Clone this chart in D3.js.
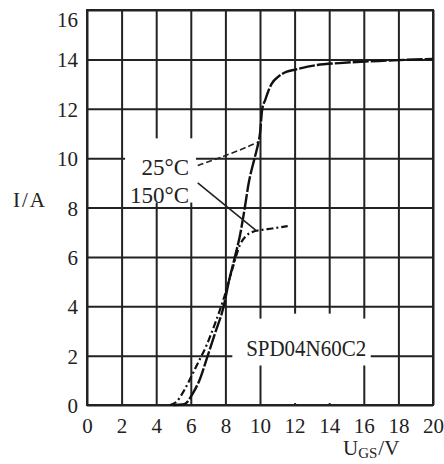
<!DOCTYPE html>
<html>
<head>
<meta charset="utf-8">
<script src="https://cdn.jsdelivr.net/npm/d3@7"></script>
<style>
  body { margin: 0; background: #fff; }
  svg text { font-family: "Liberation Serif", "DejaVu Serif", serif; fill: #222; }
</style>
</head>
<body>
<svg id="chart"></svg>
<script>
// Transfer characteristic, SPD04N60C2 (I vs U_GS at two temperatures)

const xTicks = [0, 2, 4, 6, 8, 10, 12, 14, 16, 18, 20];
const yTicks = [0, 2, 4, 6, 8, 10, 12, 14, 16];

// 25 C curve
const volt25 = [5.0, 5.5, 5.76, 6.1, 6.5, 6.98, 7.4, 7.9, 8.2, 8.55, 8.85, 9.1, 9.35, 9.65, 9.85, 10.0, 10.13, 10.3, 10.5, 10.68, 11.06, 11.55, 12.0, 13.3, 14.6, 17.3, 20];
const amp25  = [0.0, 0.02, 0.1, 0.45, 1.0, 2.0, 2.9, 4.0, 5.0, 6.0, 6.9, 7.9, 9.0, 9.9, 10.45, 11.0, 12.0, 12.35, 12.75, 13.02, 13.3, 13.5, 13.58, 13.77, 13.85, 13.95, 14.02];

// 150 C curve
const volt150 = [4.8, 5.2, 5.4, 5.85, 6.34, 6.9, 7.4, 7.9, 8.4, 8.85, 9.2, 9.6, 10.0, 10.7, 11.6];
const amp150  = [0.0, 0.15, 0.34, 0.9, 1.6, 2.4, 3.3, 4.3, 5.5, 6.5, 6.85, 7.02, 7.08, 7.15, 7.25];

// label leader lines (data units)
const lead25 = [[6.4, 9.7], [7.8, 10.05], [9.25, 10.45], [9.9, 10.65]];
const lead150 = [[6.4, 9.0], [9.8, 7.05]];

const margin = { top: 10, right: 11, bottom: 59, left: 87 };
const width = 444 - margin.left - margin.right;
const height = 464 - margin.top - margin.bottom;

const svg = d3.select('#chart')
    .attr('width', 444)
    .attr('height', 464);

const g = svg.append('g')
    .attr('transform', `translate(${margin.left},${margin.top})`);

const x = d3.scaleLinear().domain([0, 20]).range([0, width]);
const y = d3.scaleLinear().domain([0, 16]).range([height, 0]);

// grid + tick labels through the axes
const xAxis = g.append('g')
    .attr('transform', `translate(0,${height})`)
    .call(d3.axisBottom(x).tickValues(xTicks).tickSize(-height).tickPadding(13).tickFormat(d3.format('d')));

const yAxis = g.append('g')
    .call(d3.axisLeft(y).tickValues(yTicks).tickSize(-width).tickPadding(9).tickFormat(d3.format('d')));

[xAxis, yAxis].forEach(a => {
  a.select('.domain').remove();
  a.selectAll('line').attr('stroke', '#222').attr('stroke-width', 2);
  a.selectAll('text')
      .attr('font-family', '"Liberation Serif", serif')
      .attr('font-size', 21)
      .attr('fill', '#222');
});
yAxis.selectAll('text').attr('dy', '0.36em');
// top label sits lower in the original
yAxis.selectAll('.tick').filter(d => d === 16).select('text').attr('dy', '0.78em');

// frame
g.append('rect')
    .attr('width', width)
    .attr('height', height)
    .attr('fill', 'none')
    .attr('stroke', '#222')
    .attr('stroke-width', 2);

// white patches behind the labels (grid is broken there)
const patches = [
  [2.2, 6.3, 8.2, 10.8],
  [8.4, 16.4, 1.6, 3.5],
  [10.6, 15.0, 0.08, 3.7]
];
g.selectAll('.patch')
    .data(patches)
    .enter().append('rect')
    .attr('class', 'patch')
    .attr('x', d => x(d[0]))
    .attr('width', d => x(d[1]) - x(d[0]))
    .attr('y', d => y(d[3]))
    .attr('height', d => y(d[2]) - y(d[3]))
    .attr('fill', '#fff');

const line = d3.line()
    .x(d => x(d[0]))
    .y(d => y(d[1]))
    .curve(d3.curveMonotoneX);

// 150 C - dash dot
g.append('path')
    .datum(d3.zip(volt150, amp150))
    .attr('d', line)
    .attr('fill', 'none')
    .attr('stroke', '#111')
    .attr('stroke-width', 2.2)
    .attr('stroke-dasharray', '7,3,2,3');

// 25 C - long dashes
g.append('path')
    .datum(d3.zip(volt25, amp25))
    .attr('d', line)
    .attr('fill', 'none')
    .attr('stroke', '#111')
    .attr('stroke-width', 2.4)
    .attr('stroke-dasharray', '16,2');

// leaders
g.append('path')
    .datum(lead25)
    .attr('d', d3.line().x(d => x(d[0])).y(d => y(d[1])).curve(d3.curveCatmullRom))
    .attr('fill', 'none')
    .attr('stroke', '#222')
    .attr('stroke-width', 1.6)
    .attr('stroke-dasharray', '6,3');

g.append('path')
    .datum(lead150)
    .attr('d', d3.line().x(d => x(d[0])).y(d => y(d[1])))
    .attr('fill', 'none')
    .attr('stroke', '#222')
    .attr('stroke-width', 1.6);

// labels
g.append('text')
    .attr('x', x(5.9))
    .attr('y', y(9.3))
    .attr('text-anchor', 'end')
    .attr('font-size', 23)
    .text('25°C');

g.append('text')
    .attr('x', x(5.9))
    .attr('y', y(8.2))
    .attr('text-anchor', 'end')
    .attr('font-size', 23)
    .text('150°C');

g.append('text')
    .attr('x', x(9.2))
    .attr('y', y(1.98))
    .attr('font-size', 23)
    .attr('textLength', 120)
    .attr('lengthAdjust', 'spacingAndGlyphs')
    .text('SPD04N60C2');

// axis titles
svg.append('text')
    .attr('x', 13)
    .attr('y', 207)
    .attr('font-size', 21)
    .attr('letter-spacing', 2)
    .text('I/A');

const xt = svg.append('text')
    .attr('x', 343)
    .attr('y', 455)
    .attr('font-size', 21);
xt.append('tspan').text('U');
xt.append('tspan').attr('dy', 3).attr('font-size', 15).text('GS');
xt.append('tspan').attr('dy', -3).attr('dx', 1).text('/V');
</script>
</body>
</html>
